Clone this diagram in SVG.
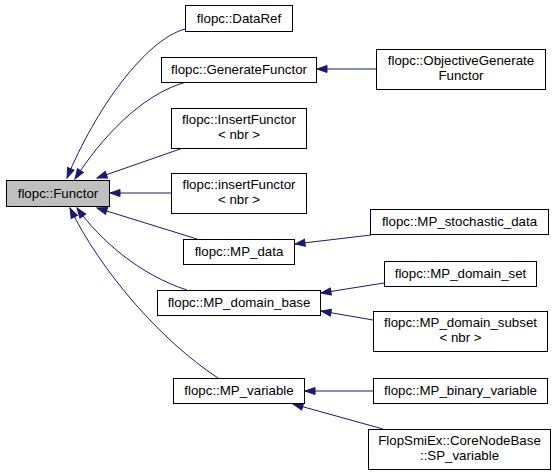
<svg xmlns="http://www.w3.org/2000/svg" width="557" height="475" viewBox="0 0 557 475">
<style>
.node rect{fill:#ffffff;stroke:#000000;stroke-width:1}
.node.root rect{fill:#bfbfbf}
.node text{font-family:"Liberation Sans",Arial,sans-serif;font-size:13.3px;fill:#000000;text-anchor:middle}
.edges path{fill:none;stroke:#191970;stroke-width:1}
</style>
<defs>
<marker id="arr" markerUnits="userSpaceOnUse" markerWidth="12" markerHeight="9" viewBox="0 0 12 9" refX="11" refY="4.5" orient="auto">
<path d="M1,1 L11,4.5 L1,8 Z" fill="#191970" stroke="#191970" stroke-width="1"/>
</marker>
</defs>
<rect width="557" height="475" fill="#ffffff"/>
<g class="edges">
<path d="M185,29 C145,40 95,110 67,178" marker-end="url(#arr)"/>
<path d="M186,82 C140,95 100,140 75,179" marker-end="url(#arr)"/>
<path d="M183,148 L97,178" marker-end="url(#arr)"/>
<path d="M171,193 L110,193" marker-end="url(#arr)"/>
<path d="M197,239 L97,208" marker-end="url(#arr)"/>
<path d="M187,290 C140,275 100,240 77,208" marker-end="url(#arr)"/>
<path d="M218,378 C160,340 100,270 70,208" marker-end="url(#arr)"/>
<path d="M376,69 L317,69" marker-end="url(#arr)"/>
<path d="M371,235 L295,244" marker-end="url(#arr)"/>
<path d="M384,283 L321,293" marker-end="url(#arr)"/>
<path d="M373,320 L321,311" marker-end="url(#arr)"/>
<path d="M373,391 L305,391" marker-end="url(#arr)"/>
<path d="M383,429 L293,404" marker-end="url(#arr)"/>
</g>
<g id="node-Functor" class="node root"><rect x="6.5" y="180.5" width="103" height="26"/><text x="58" y="197.5">flopc::Functor</text></g>
<g id="node-DataRef" class="node"><rect x="185.5" y="5.5" width="107" height="26"/><text x="239" y="22.5">flopc::DataRef</text></g>
<g id="node-GenerateFunctor" class="node"><rect x="161.5" y="57.5" width="155" height="25"/><text x="239" y="74">flopc::GenerateFunctor</text></g>
<g id="node-InsertFunctor" class="node"><rect x="171.5" y="108.5" width="135" height="40"/><text x="239" y="124">flopc::InsertFunctor</text><text x="239" y="139">&lt; nbr &gt;</text></g>
<g id="node-insertFunctor" class="node"><rect x="171.5" y="173.5" width="135" height="40"/><text x="239" y="189">flopc::insertFunctor</text><text x="239" y="204">&lt; nbr &gt;</text></g>
<g id="node-MP_data" class="node"><rect x="183.5" y="239.5" width="111" height="25"/><text x="239" y="256">flopc::MP_data</text></g>
<g id="node-MP_domain_base" class="node"><rect x="157.5" y="290.5" width="163" height="25"/><text x="239" y="307">flopc::MP_domain_base</text></g>
<g id="node-MP_variable" class="node"><rect x="173.5" y="378.5" width="131" height="25"/><text x="239" y="395">flopc::MP_variable</text></g>
<g id="node-ObjectiveGenerateFunctor" class="node"><rect x="376.5" y="49.5" width="169" height="40"/><text x="461" y="65">flopc::ObjectiveGenerate</text><text x="461" y="80">Functor</text></g>
<g id="node-MP_stochastic_data" class="node"><rect x="370.5" y="209.5" width="178" height="25"/><text x="459.5" y="226">flopc::MP_stochastic_data</text></g>
<g id="node-MP_domain_set" class="node"><rect x="384.5" y="261.5" width="152" height="25"/><text x="460.5" y="278">flopc::MP_domain_set</text></g>
<g id="node-MP_domain_subset" class="node"><rect x="373.5" y="311.5" width="174" height="40"/><text x="460.5" y="327">flopc::MP_domain_subset</text><text x="460.5" y="342">&lt; nbr &gt;</text></g>
<g id="node-MP_binary_variable" class="node"><rect x="373.5" y="378.5" width="174" height="25"/><text x="460.5" y="395">flopc::MP_binary_variable</text></g>
<g id="node-SP_variable" class="node"><rect x="368.5" y="429.5" width="182" height="40"/><text x="459.5" y="445">FlopSmiEx::CoreNodeBase</text><text x="459.5" y="460">::SP_variable</text></g>
</svg>
